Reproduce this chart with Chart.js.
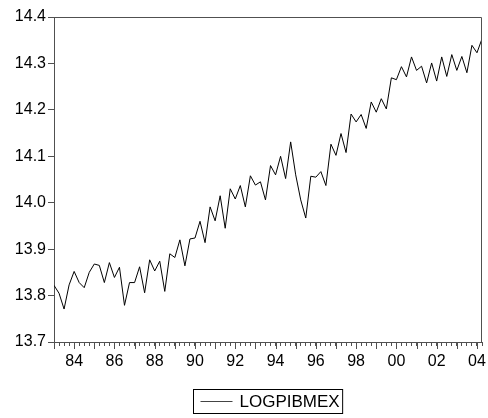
<!DOCTYPE html>
<html>
<head>
<meta charset="utf-8">
<script src="https://cdn.jsdelivr.net/npm/chart.js@4.4.1/dist/chart.umd.min.js"></script>
<style>
  html, body { margin: 0; padding: 0; background: #fff; }
  #wrap { width: 488px; height: 418px; }
</style>
</head>
<body>
<div id="wrap"><canvas id="chart" width="488" height="418"></canvas></div>
<script>
// quarterly series, 1983Q1 .. 2004Q2
const seriesName = "LOGPIBMEX";
const startYear = 1983;
const logPibMex = [
  13.822, 13.805, 13.771, 13.823, 13.852, 13.828, 13.817, 13.850,
  13.868, 13.865, 13.828, 13.871, 13.839, 13.861, 13.779, 13.828,
  13.828, 13.862, 13.806, 13.877, 13.853, 13.874, 13.809, 13.890,
  13.882, 13.920, 13.864, 13.922, 13.924, 13.960, 13.914, 13.991,
  13.961, 14.015, 13.945, 14.030, 14.008, 14.037, 13.991, 14.058,
  14.038, 14.045, 14.006, 14.080, 14.060, 14.100, 14.052, 14.131,
  14.060, 14.006, 13.967, 14.057, 14.055, 14.067, 14.037, 14.126,
  14.102, 14.149, 14.108, 14.191, 14.174, 14.190, 14.160, 14.217,
  14.195, 14.224, 14.202, 14.269, 14.265, 14.293, 14.271, 14.314,
  14.285, 14.294, 14.258, 14.301, 14.262, 14.314, 14.272, 14.319,
  14.285, 14.315, 14.280, 14.339, 14.323, 14.353
];
const yearLabels = ["84", "86", "88", "90", "92", "94", "96", "98", "00", "02", "04"];
const yMin = 13.7, yMax = 14.4, yStep = 0.1;

const points = logPibMex.map((v, i) => ({ x: i, y: v }));
const FONT = "'Liberation Sans', Arial, Helvetica, sans-serif";
const FRAME = "#505050";

// year ticks, top/right frame and the boxed legend
const eviewsBits = {
  id: "eviewsBits",
  afterDraw(chart) {
    const ctx = chart.ctx;
    const a = chart.chartArea;
    const xs = chart.scales.x;
    ctx.save();
    ctx.strokeStyle = FRAME;
    ctx.lineWidth = 1;
    ctx.beginPath();
    ctx.moveTo(Math.round(a.left) + 0.5, Math.round(a.top) + 0.5);
    ctx.lineTo(Math.round(a.right) - 0.5, Math.round(a.top) + 0.5);
    ctx.lineTo(Math.round(a.right) - 0.5, Math.round(a.bottom) + 0.5);
    ctx.stroke();
    // longer tick on first quarter of each year
    ctx.beginPath();
    for (let i = 0; i < logPibMex.length; i++) {
      if (i % 4 !== 0) continue;
      const px = Math.round(xs.getPixelForValue(i)) + 0.5;
      ctx.moveTo(px, a.bottom);
      ctx.lineTo(px, a.bottom + 7);
    }
    ctx.stroke();

    // legend, centred under the plot area
    ctx.font = "17px " + FONT;
    const tw = ctx.measureText(seriesName).width;
    const lineLen = 32, gap = 7, padL = 7, padR = 3;
    const w = padL + lineLen + gap + tw + padR;
    const h = 24;
    const left = Math.round((a.left + a.right) / 2 - w / 2) + 0.5;
    const top = 389.5;
    ctx.strokeStyle = "#000";
    ctx.strokeRect(left, top, w, h);
    ctx.strokeStyle = "#444";
    ctx.beginPath();
    ctx.moveTo(left + padL, top + h / 2);
    ctx.lineTo(left + padL + lineLen, top + h / 2);
    ctx.stroke();
    ctx.fillStyle = "#000";
    ctx.textBaseline = "middle";
    ctx.fillText(seriesName, left + padL + lineLen + gap, top + h / 2 + 1);
    ctx.restore();
  }
};

new Chart(document.getElementById("chart"), {
  type: "line",
  data: {
    datasets: [{
      label: seriesName,
      data: points,
      borderColor: "#000",
      borderWidth: 1,
      pointRadius: 0,
      tension: 0,
      fill: false
    }]
  },
  options: {
    responsive: false,
    animation: false,
    layout: { padding: { top: 17, right: 4, left: 0, bottom: 0 } },
    plugins: {
      legend: { display: false },
      tooltip: { enabled: false }
    },
    scales: {
      x: {
        type: "linear",
        min: 0,
        max: logPibMex.length - 1,
        afterFit: s => { s.height = 76; },
        grid: { drawOnChartArea: false, tickLength: 4, color: FRAME },
        border: { color: FRAME },
        ticks: {
          stepSize: 1,
          autoSkip: false,
          maxRotation: 0,
          padding: 6,
          color: "#000",
          font: { family: FONT, size: 16 },
          callback: v => (v % 8 === 4 ? yearLabels[(v - 4) / 8] : "")
        }
      },
      y: {
        min: yMin,
        max: yMax,
        afterFit: s => { s.width = 54; },
        grid: { drawOnChartArea: false, tickLength: 6, color: FRAME },
        border: { color: FRAME },
        ticks: {
          stepSize: yStep,
          padding: 2,
          color: "#000",
          font: { family: FONT, size: 16 },
          callback: v => v.toFixed(1)
        }
      }
    }
  },
  plugins: [eviewsBits]
});
</script>
</body>
</html>
